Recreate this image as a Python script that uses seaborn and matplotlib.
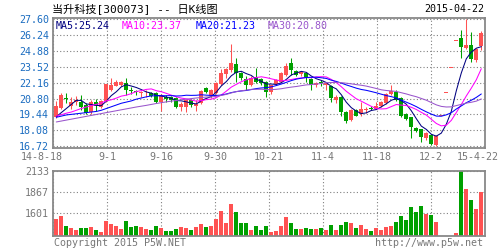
import numpy as np
import pandas as pd
import matplotlib
matplotlib.use("Agg")
import matplotlib.pyplot as plt
import matplotlib.transforms as mtransforms
import seaborn as sns

# ---------------- data ----------------
title = "当升科技[300073] -- 日K线图"
date_label = "2015-04-22"
x_labels = ["14-8-18", "9-1", "9-16", "9-30", "10-21", "11-4", "11-18", "12-2", "15-4-22"]
price_ticks = [27.60, 26.24, 24.88, 23.52, 22.16, 20.80, 19.44, 18.08, 16.72]
vol_ticks = [2133, 1867, 1601]
ma_names = ["MA5", "MA10", "MA20", "MA30"]
ma_last = ["25.24", "23.37", "21.23", "20.80"]

opens = [19.25, 20.00, 20.87, 20.16, 20.50, 20.55, 20.28, 19.62, 20.50, 20.08,
         20.56, 21.53, 21.90, 21.95, 22.15, 21.55, 21.45, 21.25, 21.15, 21.25,
         21.24, 20.50, 20.90, 20.95, 20.88, 20.08, 20.07, 20.66, 20.18, 20.40,
         21.70, 21.00, 21.28, 22.02, 22.90, 23.24, 23.74, 22.95, 22.50, 21.98,
         22.67, 22.45, 22.20, 21.38, 22.05, 22.24, 22.85, 23.81, 23.15, 22.90,
         22.95, 22.50, 21.96, 22.25, 21.98, 21.90, 20.67, 20.90, 19.67, 18.96,
         19.82, 19.44, 19.85, 20.00, 19.95, 20.16, 20.39, 21.16, 21.39, 20.82,
         19.47, 19.19, 18.25, 18.16, 17.39, 17.68, 16.82, 19.34, 21.27, 23.40,
         25.74, 26.00, 25.09, 25.38, 24.10, 25.30]
closes = [20.16, 21.10, 20.76, 20.53, 20.70, 20.10, 19.60, 20.55, 20.14, 20.59,
          22.01, 21.98, 22.20, 22.24, 21.50, 21.45, 21.35, 21.32, 21.22, 21.00,
          20.50, 21.10, 20.80, 20.70, 20.07, 20.36, 20.67, 20.28, 20.32, 21.44,
          21.36, 21.50, 22.12, 22.98, 23.30, 23.84, 23.02, 22.53, 21.98, 22.53,
          22.20, 22.15, 21.38, 21.96, 22.35, 22.95, 23.55, 23.27, 22.81, 23.05,
          22.53, 21.98, 22.12, 22.10, 22.15, 20.82, 20.96, 19.62, 18.90, 19.82,
          19.35, 19.90, 19.92, 19.93, 20.20, 20.53, 21.19, 21.42, 20.67, 19.30,
          19.02, 18.39, 18.05, 17.48, 17.88, 16.95, 17.58, 19.34, 21.27, 23.40,
          25.74, 25.20, 25.40, 24.15, 25.05, 26.40]
highs = [20.59, 21.30, 21.30, 20.96, 21.05, 21.10, 20.40, 20.65, 20.78, 20.66,
         22.05, 22.55, 22.38, 22.30, 22.58, 21.80, 21.55, 21.45, 21.50, 21.35,
         21.35, 21.20, 21.10, 21.05, 20.95, 20.50, 20.75, 20.80, 20.65, 21.50,
         21.80, 21.65, 22.20, 23.35, 23.40, 25.45, 24.24, 23.05, 22.75, 22.75,
         23.44, 22.60, 22.30, 22.00, 22.45, 23.10, 23.85, 24.30, 23.25, 23.15,
         23.10, 22.60, 22.25, 22.35, 22.25, 22.00, 21.10, 21.00, 19.70, 19.90,
         19.90, 20.53, 20.10, 20.15, 20.50, 20.60, 21.25, 21.96, 21.50, 20.95,
         19.55, 19.25, 18.39, 18.20, 17.95, 17.75, 17.65, 19.34, 21.27, 23.40,
         25.74, 26.66, 27.60, 26.50, 25.15, 26.60]
lows = [19.18, 19.90, 20.38, 19.95, 20.28, 19.85, 19.50, 19.50, 19.78, 20.00,
        20.50, 21.45, 21.85, 21.88, 21.12, 21.15, 21.10, 20.90, 20.90, 20.90,
        20.40, 19.78, 20.55, 20.50, 20.00, 19.75, 19.67, 20.05, 19.70, 20.35,
        21.30, 20.85, 21.20, 21.95, 22.60, 23.10, 22.24, 22.40, 21.53, 21.85,
        22.10, 22.00, 20.96, 21.20, 21.95, 22.15, 22.75, 22.81, 22.70, 22.75,
        22.24, 21.55, 21.80, 21.90, 21.50, 20.50, 20.40, 19.35, 18.68, 18.90,
        19.30, 19.30, 19.60, 19.80, 19.95, 20.10, 20.30, 21.10, 20.60, 19.20,
        18.95, 17.39, 17.90, 17.11, 17.30, 16.80, 16.72, 19.34, 21.27, 23.40,
        25.74, 24.30, 25.00, 23.95, 23.95, 24.95]
volumes = [1525, 1567, 1436, 1411, 1386, 1411, 1411, 1424, 1386, 1360,
           1500, 1462, 1436, 1398, 1500, 1424, 1436, 1424, 1398, 1386,
           1436, 1411, 1373, 1373, 1398, 1424, 1411, 1386, 1424, 1462,
           1424, 1436, 1525, 1626, 1474, 1715, 1614, 1474, 1474, 1386,
           1436, 1386, 1436, 1360, 1373, 1436, 1550, 1474, 1398, 1398,
           1411, 1398, 1398, 1411, 1386, 1449, 1386, 1449, 1487, 1474,
           1411, 1449, 1398, 1373, 1411, 1386, 1424, 1436, 1487, 1563,
           1512, 1677, 1614, 1690, 1593, 1576, 1487, 1290, 1290, 1290,
           1348, 2200, 1905, 1766, 1652, 1867]
# moving-average values for the first points (window not yet full)
ma5_head = [19.25, 19.60, 19.95, 20.30]
ma10_head = [19.30, 19.42, 19.55, 19.65, 19.80, 19.95, 20.08, 20.20, 20.30]
ma20_head = [19.20, 19.30, 19.40, 19.45, 19.50, 19.55, 19.60, 19.65, 19.70, 19.80,
             19.95, 20.10, 20.25, 20.40, 20.50, 20.60, 20.75, 20.85, 20.95]
ma30_head = [18.80, 18.88, 18.96, 19.04, 19.12, 19.20, 19.28, 19.36, 19.44, 19.52,
             19.60, 19.68, 19.76, 19.84, 19.92, 20.00, 20.08, 20.15, 20.22, 20.30,
             20.38, 20.45, 20.52, 20.58, 20.64, 20.70, 20.75, 20.80, 20.85]

# ---------------- style ----------------
RED = "#ff5252"
GREEN = "#00a000"
MA_COLORS = ["#000080", "#ff00ff", "#0000ff", "#9955cc"]
GRID = "#808080"
SPINE = "#888888"
PRICE_LBL = "#1a6cc0"
GRAY_LBL = "#777777"

sns.set_theme(style="white")
plt.rcParams["font.family"] = ["DejaVu Sans Mono", "Noto Sans CJK SC"]

df = pd.DataFrame({"open": opens, "close": closes, "high": highs, "low": lows, "vol": volumes})
df["idx"] = np.arange(len(df))
df["dir"] = np.where(df["close"] >= df["open"], "up", "down")
c = df["close"]
mas = []
for n, head in zip([5, 10, 20, 30], [ma5_head, ma10_head, ma20_head, ma30_head]):
    m = c.rolling(n).mean()
    m.iloc[: n - 1] = head
    mas.append(m)

fig = plt.figure(figsize=(5, 2.5), dpi=100)
W, H = 500, 250
x0, x1 = 53, 485
ax = fig.add_axes([x0 / W, 1 - 147.7 / H, (x1 - x0) / W, 129.7 / H])
axv = fig.add_axes([x0 / W, 1 - 236 / H, (x1 - x0) / W, 65 / H])

xlim = (-0.66, 85.74)
grid_pos = [xlim[0] + j * (xlim[1] - xlim[0]) / 8 for j in range(9)]

# candles
cols = np.where(df["dir"] == "up", RED, GREEN)
ax.vlines(df["idx"], df["low"], df["high"], colors=cols, linewidth=0.75, zorder=3)
body_b = np.minimum(df["open"], df["close"])
body_h = np.maximum(np.abs(df["close"] - df["open"]), 0.07)
ax.bar(df["idx"], body_h, bottom=body_b, width=0.8, color=cols, linewidth=0, zorder=4)

# moving averages
for m, col in zip(mas, MA_COLORS):
    sns.lineplot(x=df["idx"], y=m, color=col, linewidth=0.75, ax=ax, zorder=5)

# volume bars
sns.barplot(data=df, x="idx", y="vol", hue="dir", palette={"up": RED, "down": GREEN},
            native_scale=True, dodge=False, legend=False, width=0.8, saturation=1,
            errorbar=None, linewidth=0, ax=axv)

for a in (ax, axv):
    a.set_xlim(*xlim)
    a.set_xlabel("")
    a.set_ylabel("")
    for s in a.spines.values():
        s.set_color(SPINE)
        s.set_linewidth(1.3)
    a.grid(True, color=GRID, linestyle=(0, (1, 2)), linewidth=0.8)
    a.tick_params(length=0)
    a.set_axisbelow(True)

ax.set_ylim(16.60, 27.69)
ax.set_yticks(price_ticks)
ax.set_yticklabels([f"{v:.2f}" for v in price_ticks], color=PRICE_LBL, fontsize=7.2)
ax.tick_params(axis="y", pad=3)
ax.set_xticks(grid_pos)
ax.set_xticklabels(x_labels, color=GRAY_LBL, fontsize=7.2)
ax.tick_params(axis="x", pad=3)
lbls = ax.get_xticklabels()
lbls[0].set_transform(lbls[0].get_transform() + mtransforms.ScaledTranslation(-8 / 72, 0, fig.dpi_scale_trans))
lbls[-1].set_horizontalalignment("right")
lbls[-1].set_transform(lbls[-1].get_transform() + mtransforms.ScaledTranslation(14 / 100, 0, fig.dpi_scale_trans))

axv.set_ylim(1315, 2133)
axv.set_yticks(vol_ticks)
axv.set_yticklabels([str(v) for v in vol_ticks], color=GRAY_LBL, fontsize=7.2)
axv.tick_params(axis="y", pad=3)
axv.set_xticks(grid_pos)
axv.set_xticklabels([])

# header texts
fig.text(52 / W, 1 - 8.5 / H, title, fontsize=8, color="black", va="center", ha="left")
fig.text(484 / W, 1 - 8.5 / H, date_label, fontsize=7.2, color="black", va="center", ha="right")
leg_x = [56, 122, 196, 268]
for name, val, col, lx in zip(ma_names, ma_last, MA_COLORS, leg_x):
    fig.text(lx / W, 1 - 25.7 / H, f"{name}:{val}", fontsize=7.2, color=col, va="center", ha="left")

fig.text(54 / W, 1 - 242.5 / H, "Copyright 2015 P5W.NET", fontsize=7.2, color=GRAY_LBL, va="center", ha="left")
fig.text(483 / W, 1 - 242.5 / H, "http://www.p5w.net", fontsize=7.2, color=GRAY_LBL, va="center", ha="right")

fig.savefig("out.png", dpi=100)
